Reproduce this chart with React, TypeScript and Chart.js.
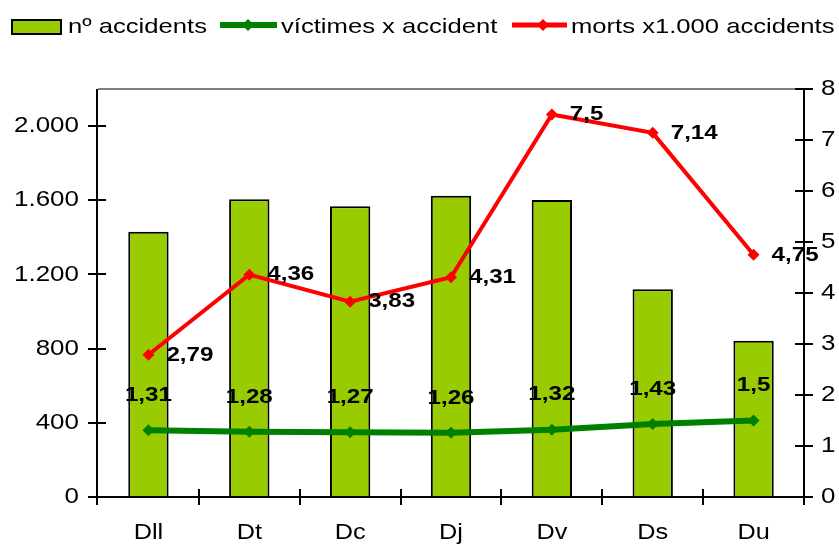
import React, { useEffect, useRef } from 'react';
import { Chart, registerables } from 'chart.js';

Chart.register(...registerables);

const categories = ['Dll', 'Dt', 'Dc', 'Dj', 'Dv', 'Ds', 'Du'];
const accidents = [1430, 1605, 1568, 1625, 1602, 1120, 842];
const victimes = [1.31, 1.28, 1.27, 1.26, 1.32, 1.43, 1.5];
const morts = [2.79, 4.36, 3.83, 4.31, 7.5, 7.14, 4.75];
const leftTicks = [0, 400, 800, 1200, 1600, 2000];
const rightTicks = [0, 1, 2, 3, 4, 5, 6, 7, 8];
const seriesNames = ['nº accidents', 'víctimes x accident', 'morts x1.000 accidents'];

const FONT = '"Liberation Sans", Arial, Helvetica, sans-serif';
const BAR_COLOR = '#99CC00';
const GREEN = '#008000';
const RED = '#FF0000';

const fmtThousands = (n: number) => String(n).replace(/\B(?=(\d{3})+(?!\d))/g, '.');
const fmtDec = (n: number) => String(n).replace('.', ',');

function drawText(
  ctx: CanvasRenderingContext2D,
  text: string,
  x: number,
  y: number,
  align: CanvasTextAlign,
  font: string,
  sx: number,
  color = '#000'
) {
  ctx.save();
  ctx.font = font;
  ctx.fillStyle = color;
  ctx.textBaseline = 'middle';
  ctx.textAlign = align;
  ctx.translate(x, y);
  ctx.scale(sx, 1);
  ctx.fillText(text, 0, 0);
  ctx.restore();
}

function diamond(ctx: CanvasRenderingContext2D, x: number, y: number, r: number, color: string) {
  ctx.beginPath();
  ctx.moveTo(x, y - r);
  ctx.lineTo(x + r, y);
  ctx.lineTo(x, y + r);
  ctx.lineTo(x - r, y);
  ctx.closePath();
  ctx.fillStyle = color;
  ctx.fill();
}

const decorPlugin = {
  id: 'decor',
  beforeDatasetsDraw(chart: any) {
    const ctx: CanvasRenderingContext2D = chart.ctx;
    const { left, right, top, bottom } = chart.chartArea;
    ctx.save();
    // top border
    ctx.strokeStyle = '#808080';
    ctx.lineWidth = 2;
    ctx.beginPath();
    ctx.moveTo(left, top);
    ctx.lineTo(right, top);
    ctx.stroke();
    ctx.restore();
  },
  afterDatasetsDraw(chart: any) {
    const ctx: CanvasRenderingContext2D = chart.ctx;
    const { left, right, top, bottom } = chart.chartArea;
    const yL = chart.scales.y;
    const yR = chart.scales.y1;
    const xS = chart.scales.x;

    // data labels
    const labelFont = `bold 21px ${FONT}`;
    const metaV = chart.getDatasetMeta(1);
    metaV.data.forEach((p: any, i: number) => {
      drawText(ctx, fmtDec(victimes[i]), p.x, p.y - 35, 'center', labelFont, 1.15);
    });
    const metaM = chart.getDatasetMeta(2);
    metaM.data.forEach((p: any, i: number) => {
      drawText(ctx, fmtDec(morts[i]), p.x + 18, p.y, 'left', labelFont, 1.15);
    });

    ctx.save();
    ctx.strokeStyle = '#000';
    ctx.lineWidth = 2;
    ctx.lineCap = 'butt';
    // left axis
    ctx.beginPath();
    ctx.moveTo(left - 1, top);
    ctx.lineTo(left - 1, bottom + 8);
    leftTicks.forEach((v) => {
      const y = Math.round(yL.getPixelForValue(v));
      ctx.moveTo(left - 10, y);
      ctx.lineTo(left + 8, y);
    });
    // right axis
    ctx.moveTo(right, top - 1);
    ctx.lineTo(right, bottom + 8);
    rightTicks.forEach((v) => {
      const y = Math.round(yR.getPixelForValue(v));
      ctx.moveTo(right - 9, y);
      ctx.lineTo(right + 9, y);
    });
    // bottom axis
    ctx.moveTo(left - 2, bottom);
    ctx.lineTo(right + 9, bottom);
    const n = categories.length;
    for (let i = 1; i < n; i++) {
      const x = Math.round((xS.getPixelForValue(i - 1) + xS.getPixelForValue(i)) / 2);
      ctx.moveTo(x, bottom - 8);
      ctx.lineTo(x, bottom + 8);
    }
    ctx.stroke();
    ctx.restore();

    // tick labels
    const tickFont = `22px ${FONT}`;
    leftTicks.forEach((v) => {
      drawText(ctx, fmtThousands(v), 79, yL.getPixelForValue(v), 'right', tickFont, 1.18);
    });
    rightTicks.forEach((v) => {
      drawText(ctx, String(v), right + 17, yR.getPixelForValue(v), 'left', tickFont, 1.18);
    });
    categories.forEach((c, i) => {
      drawText(ctx, c, xS.getPixelForValue(i), bottom + 36, 'center', tickFont, 1.15);
    });

    // legend
    const legFont = `21px ${FONT}`;
    const ly = 27;
    ctx.save();
    ctx.fillStyle = BAR_COLOR;
    ctx.fillRect(12, 20, 49, 14);
    ctx.strokeStyle = '#000';
    ctx.lineWidth = 2;
    ctx.strokeRect(12, 20, 49, 14);
    ctx.restore();
    drawText(ctx, seriesNames[0], 68, ly, 'left', legFont, 1.22);

    ctx.save();
    ctx.strokeStyle = GREEN;
    ctx.lineWidth = 6;
    ctx.beginPath();
    ctx.moveTo(220, 25);
    ctx.lineTo(277, 25);
    ctx.stroke();
    diamond(ctx, 248, 25, 6, GREEN);
    ctx.restore();
    drawText(ctx, seriesNames[1], 281, ly, 'left', legFont, 1.22);

    ctx.save();
    ctx.strokeStyle = RED;
    ctx.lineWidth = 5;
    ctx.beginPath();
    ctx.moveTo(512, 25);
    ctx.lineTo(567, 25);
    ctx.stroke();
    diamond(ctx, 543, 25, 6, RED);
    ctx.restore();
    drawText(ctx, seriesNames[2], 571, ly, 'left', legFont, 1.22);
  },
};

export default function App() {
  const ref = useRef<HTMLCanvasElement | null>(null);

  useEffect(() => {
    if (!ref.current) return;
    const chart = new Chart(ref.current, {
      type: 'bar',
      data: {
        labels: categories,
        datasets: [
          {
            type: 'bar',
            label: seriesNames[0],
            data: accidents,
            backgroundColor: BAR_COLOR,
            borderColor: '#000',
            borderWidth: 2,
            barPercentage: 0.4,
            categoryPercentage: 1,
            yAxisID: 'y',
            order: 3,
          },
          {
            type: 'line',
            label: seriesNames[1],
            data: victimes,
            borderColor: GREEN,
            backgroundColor: GREEN,
            borderWidth: 6,
            pointStyle: 'rectRot',
            pointRadius: 6,
            pointBorderWidth: 0,
            tension: 0,
            yAxisID: 'y1',
            order: 2,
          },
          {
            type: 'line',
            label: seriesNames[2],
            data: morts,
            borderColor: RED,
            backgroundColor: RED,
            borderWidth: 4,
            pointStyle: 'rectRot',
            pointRadius: 6,
            pointBorderWidth: 0,
            tension: 0,
            yAxisID: 'y1',
            order: 1,
          },
        ] as any,
      },
      options: {
        animation: false,
        responsive: false,
        maintainAspectRatio: false,
        layout: { padding: { top: 89, left: 0, right: 0, bottom: 0 } },
        plugins: {
          legend: { display: false },
          tooltip: { enabled: false },
          title: { display: false },
        },
        scales: {
          x: {
            type: 'category',
            offset: true,
            grid: { display: false },
            border: { display: false },
            ticks: { display: false },
            afterFit: (s: any) => {
              s.height = 49;
            },
          },
          y: {
            position: 'left',
            min: 0,
            max: 2200,
            grid: { display: false },
            border: { display: false },
            ticks: { display: false, stepSize: 400, includeBounds: false },
            afterFit: (s: any) => {
              s.width = 98;
            },
          },
          y1: {
            position: 'right',
            min: 0,
            max: 8,
            grid: { display: false },
            border: { display: false },
            ticks: { display: false, stepSize: 1 },
            afterFit: (s: any) => {
              s.width = 35;
            },
          },
        },
      } as any,
      plugins: [decorPlugin],
    });
    return () => chart.destroy();
  }, []);

  return (
    <div style={{ position: 'absolute', left: 0, top: 0, width: 839, height: 546, background: '#fff' }}>
      <canvas ref={ref} width={839} height={546} style={{ width: 839, height: 546, display: 'block' }} />
    </div>
  );
}
